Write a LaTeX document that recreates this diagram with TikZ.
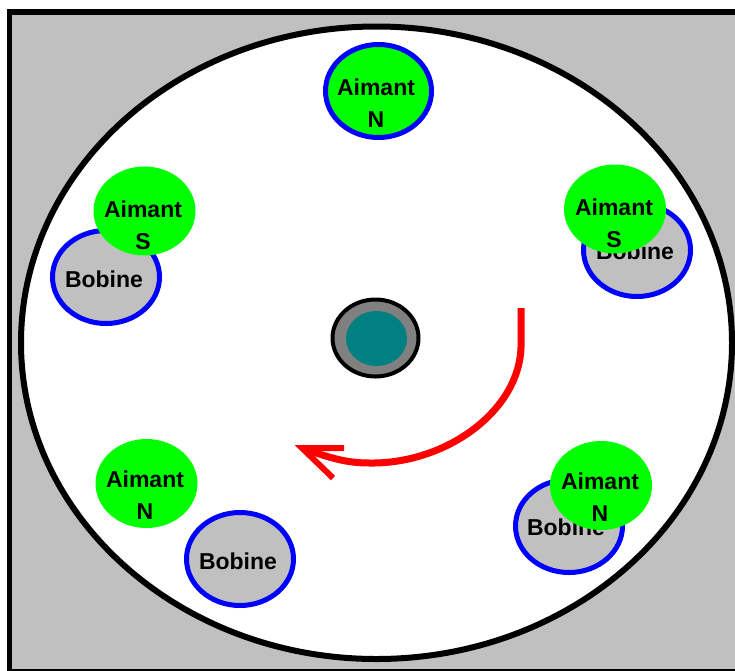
\documentclass[tikz,border=0pt]{standalone}
\usepackage{fontspec}
\setmainfont{Liberation Sans}
\usetikzlibrary{shapes.geometric}
\definecolor{panelgrey}{HTML}{C0C0C0}
\definecolor{coilblue}{HTML}{0000FF}
\definecolor{magnetgreen}{HTML}{00FF00}
\definecolor{axlegrey}{HTML}{808080}
\definecolor{axleteal}{HTML}{008080}
\tikzset{
  x=1pt,y=-1pt,
  frame/.style={draw=black,line width=5.5pt,fill=panelgrey},
  disc/.style={ellipse,draw=black,line width=6pt,fill=white,minimum width=711pt,minimum height=632.5pt,inner sep=0pt},
  coil/.style={ellipse,draw=coilblue,line width=5pt,fill=panelgrey,minimum width=107pt,minimum height=93pt,inner sep=0pt},
  magnet/.style={ellipse,fill=magnetgreen,minimum width=102pt,minimum height=89pt,inner sep=0pt},
  ringedmagnet/.style={ellipse,draw=coilblue,line width=5pt,fill=magnetgreen,minimum width=106pt,minimum height=93pt,inner sep=0pt},
  lbl/.style={font=\bfseries\fontsize{23}{32}\selectfont,align=center,inner sep=0pt,text=black},
  redline/.style={draw=red,line width=7pt},
}
\begin{document}
\begin{tikzpicture}
\useasboundingbox (0,0) rectangle (735,670);
\begin{scope}
\clip (0,0) rectangle (735,670);
\path[frame] (9.5,12) rectangle (745,672);
\node[disc] (plate) at (376.5,342.75) {};

\node[ringedmagnet] (mTop) at (378.5,91) {};
\node[lbl] (tTop) at (376,103) {Aimant\\N};

\node[coil] (cL) at (106,277) {};
\node[lbl] (tcL) at (104,279) {Bobine};
\node[magnet] (mL) at (144.5,211) {};
\node[lbl] (tmL) at (143,225) {Aimant\\S};

\node[coil] (cR) at (637,250) {};
\node[lbl] (tcR) at (635,251) {Bobine};
\node[magnet] (mR) at (615,209) {};
\node[lbl] (tmR) at (614,223) {Aimant\\S};

\node[magnet] (mBL) at (146.5,483.5) {};
\node[lbl] (tmBL) at (145,495) {Aimant\\N};
\node[coil] (cBL) at (240,559) {};
\node[lbl] (tcBL) at (238,561) {Bobine};

\node[coil] (cBR) at (569,526) {};
\node[lbl] (tcBR) at (566,527) {Bobine};
\node[magnet] (mBR) at (601,485.5) {};
\node[lbl] (tmBR) at (600,497) {Aimant\\N};

\node[ellipse,draw=black,line width=4pt,fill=axlegrey,minimum width=86pt,minimum height=77pt,inner sep=0pt] (axle) at (375.5,338) {};
\node[ellipse,fill=axleteal,minimum width=61pt,minimum height=55pt,inner sep=0pt] (hub) at (376.5,338.5) {};

\coordinate (aStart) at (521,308);
\coordinate (aBend) at (521,347);
\coordinate (aTip) at (302,448);
\coordinate (hA) at (344,448);
\coordinate (hB) at (333,478);
\draw[redline] (aStart) -- (aBend) .. controls (519,412) and (445,464) .. (370,463) .. controls (350,463) and (335,460) .. (aTip);
\draw[redline,line width=6pt] (hA) -- (aTip) -- (hB);
\end{scope}
\end{tikzpicture}
\end{document}
